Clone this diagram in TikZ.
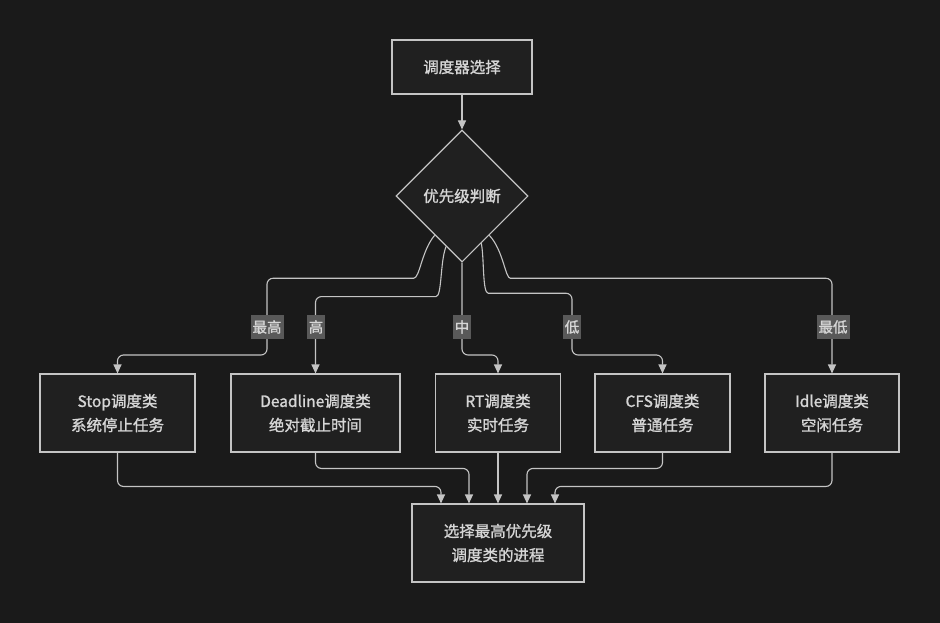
\documentclass[tikz,border=0pt]{standalone}
\usepackage{fontspec}
\setmainfont{Noto Sans CJK SC}
\newfontfamily\medfont{Noto Sans CJK SC}[FakeBold=1.3]
\usetikzlibrary{shapes.geometric,arrows.meta,calc}
\definecolor{bg}{HTML}{1A1A1A}
\definecolor{boxfill}{HTML}{202020}
\definecolor{edge}{HTML}{C4C4C4}
\definecolor{txt}{HTML}{D6D6D6}
\definecolor{lblfill}{HTML}{595959}
\begin{document}
\begin{tikzpicture}[x=1pt,y=-1pt,
  box/.style={draw=edge,fill=boxfill,line width=1.1pt,text=txt,align=center,
    font=\medfont\fontsize{15.5}{24}\selectfont,inner sep=0pt},
  dia/.style={diamond,draw=edge,fill=boxfill,line width=1.1pt,text=txt,
    font=\medfont\fontsize{15.5}{24}\selectfont,minimum width=132pt,minimum height=132pt,inner sep=0pt},
  conn/.style={draw=edge,line width=1.1pt,rounded corners=6pt,
    -{Triangle[length=9pt,width=8pt]}},
  lbl/.style={fill=lblfill,text=txt,font=\medfont\fontsize{14.5}{16}\selectfont,
    inner xsep=2pt,inner ysep=3pt,minimum height=24pt}]
\fill[bg] (0,0) rectangle (940,623);
\useasboundingbox (0,0) rectangle (940,623);

\node[box,minimum width=140pt,minimum height=54pt] (top) at (462,67) {调度器选择};
\node[dia] (judge) at (462,196) {优先级判断};

\node[box,minimum width=155pt,minimum height=78pt] (stop) at (117.5,413) {Stop调度类\\系统停止任务};
\node[box,minimum width=169pt,minimum height=78pt] (dl) at (315.5,413) {Deadline调度类\\绝对截止时间};
\node[box,minimum width=125pt,minimum height=78pt] (rt) at (498,413) {RT调度类\\实时任务};
\node[box,minimum width=135pt,minimum height=78pt] (cfs) at (662.5,413) {CFS调度类\\普通任务};
\node[box,minimum width=134pt,minimum height=78pt] (idle) at (832,413) {Idle调度类\\空闲任务};

\node[box,minimum width=172pt,minimum height=78pt] (sel) at (498,543) {选择最高优先级\\调度类的进程};

\coordinate (s1) at ($(judge.south)!0.41!(judge.west)$);
\coordinate (s2) at ($(judge.south)!0.24!(judge.west)$);
\coordinate (s4) at ($(judge.south)!0.29!(judge.east)$);
\coordinate (s5) at ($(judge.south)!0.41!(judge.east)$);

\draw[conn] (top) -- (judge);

\draw[conn] (s1) .. controls ($(s1)+(-13,15)$) and ($(s1)+(-15,43)$) .. ($(s1)+(-27,43)$)
  -| (267,355) -| (stop.north);
\draw[conn] (s2) .. controls ($(s2)+(-6,15)$) and ($(s2)+(-4,50)$) .. ($(s2)+(-16,50)$)
  -| (dl.north);
\draw[conn] (judge.south) -- (462,355) -| (rt.north);
\draw[conn] (s4) .. controls ($(s4)+(3,15)$) and ($(s4)+(1,50)$) .. ($(s4)+(13,50)$)
  -| (572,355) -| (cfs.north);
\draw[conn] (s5) .. controls ($(s5)+(14,15)$) and ($(s5)+(16,43)$) .. ($(s5)+(27,43)$)
  -| (idle.north);

\node[lbl] (l1) at (267,327) {最高};
\node[lbl] (l2) at (316,327) {高};
\node[lbl] (l3) at (462,327) {中};
\node[lbl] (l4) at (572,327) {低};
\node[lbl] (l5) at (833,327) {最低};

\draw[conn] (stop.south) |- ($(sel.north)+(-57,-17)$) -- ($(sel.north)+(-57,0)$);
\draw[conn] (dl.south) |- ($(sel.north)+(-29,-35)$) -- ($(sel.north)+(-29,0)$);
\draw[conn] (rt.south) -- (sel.north);
\draw[conn] (cfs.south) |- ($(sel.north)+(29,-35)$) -- ($(sel.north)+(29,0)$);
\draw[conn] (idle.south) |- ($(sel.north)+(57,-17)$) -- ($(sel.north)+(57,0)$);
\end{tikzpicture}
\end{document}
